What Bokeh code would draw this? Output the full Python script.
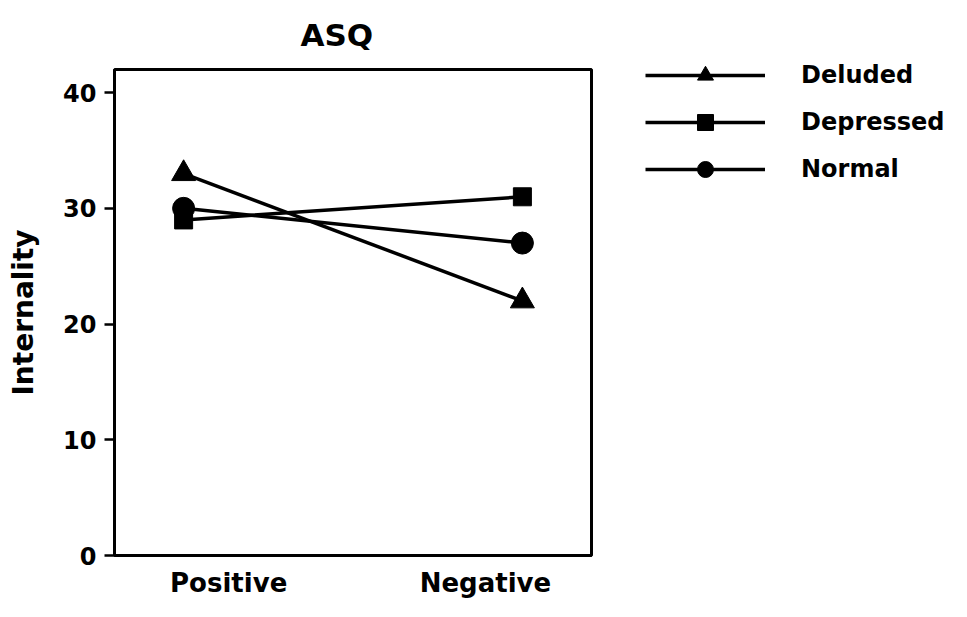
from bokeh.plotting import figure
from bokeh.models import Range1d, FixedTicker, Legend, LegendItem
from bokeh.layouts import row, column
from bokeh.embed import file_html
from bokeh.resources import INLINE

categories = ["Positive", "Negative"]
cat_x = [1, 2]
deluded = [33, 22]
depressed = [29, 31]
normal = [30, 27]
y_ticks = [0, 10, 20, 30, 40]
series = [("Deluded", deluded, "triangle", 24),
          ("Depressed", depressed, "square", 18),
          ("Normal", normal, "circle", 22)]

FONT = "DejaVu Sans"

p = figure(width=600, height=600, output_backend="svg", toolbar_location=None,
           x_range=Range1d(0.796, 2.204), y_range=Range1d(0, 42.0),
           min_border_left=114, min_border_right=9, min_border_top=69, min_border_bottom=44)

p.title.text = "ASQ"
p.title.align = "left"
p.title.offset = 186
p.title.vertical_align = "top"
p.title.text_font = FONT
p.title.text_font_size = "31px"
p.title.text_font_style = "bold"
p.title.text_color = "black"
p.title.standoff = 29

p.xgrid.visible = False
p.ygrid.visible = False
p.outline_line_color = "black"
p.outline_line_width = 3
p.background_fill_color = "white"
p.border_fill_color = "white"

# y axis
p.yaxis.ticker = FixedTicker(ticks=y_ticks)
p.yaxis.minor_tick_line_color = None
p.yaxis.major_tick_out = 10
p.yaxis.major_tick_in = 0
p.yaxis.major_tick_line_width = 2.5
p.yaxis.axis_line_width = 3
p.yaxis.major_label_standoff = 8
p.yaxis.major_label_text_font = FONT
p.yaxis.major_label_text_font_size = "24px"
p.yaxis.major_label_text_font_style = "bold"
p.yaxis.major_label_text_color = "black"
p.yaxis.axis_label = "Internality"
p.yaxis.axis_label_text_font = FONT
p.yaxis.axis_label_text_font_size = "28px"
p.yaxis.axis_label_text_font_style = "bold"
p.yaxis.axis_label_text_color = "black"
p.yaxis.axis_label_standoff = 20

# x axis: labels only (slightly offset from the data columns, as in the original)
label_pos = [cat_x[0] + 0.133, cat_x[1] - 0.109]
p.xaxis.ticker = FixedTicker(ticks=label_pos)
p.xaxis.major_label_overrides = {label_pos[i]: categories[i] for i in range(2)}
p.xaxis.major_tick_line_color = None
p.xaxis.major_tick_out = 0
p.xaxis.major_tick_in = 0
p.xaxis.minor_tick_line_color = None
p.xaxis.axis_line_width = 3
p.xaxis.major_label_standoff = 12
p.xaxis.major_label_text_font = FONT
p.xaxis.major_label_text_font_size = "26px"
p.xaxis.major_label_text_font_style = "bold"
p.xaxis.major_label_text_color = "black"

for name, vals, marker, size in series:
    p.line(cat_x, vals, line_color="black", line_width=3.5)
    p.scatter(cat_x, vals, marker=marker, size=size, fill_color="black", line_color="black")

# legend panel to the right (its renderers are hidden; only the legend shows)
q = figure(width=350, height=600, output_backend="svg", toolbar_location=None,
           x_axis_location=None, y_axis_location=None,
           x_range=p.x_range, y_range=p.y_range,
           min_border_left=0, min_border_right=0, min_border_top=0, min_border_bottom=0)
q.title.visible = False
q.xgrid.visible = False
q.ygrid.visible = False
q.outline_line_color = None
q.background_fill_color = "white"
q.border_fill_color = "white"

items = []
for name, vals, marker, size in series:
    l = q.line(cat_x, vals, line_color="black", line_width=3.5, visible=False)
    s = q.scatter(cat_x, vals, marker=marker, size=size, fill_color="black", line_color="black",
                  visible=False)
    items.append(LegendItem(label=name, renderers=[l, s]))

legend = Legend(items=items, location=(45, 411), glyph_width=120, glyph_height=40,
                label_height=40, spacing=7, padding=0, margin=0, label_standoff=36,
                border_line_color=None, background_fill_alpha=0, inactive_fill_alpha=0,
                label_text_font=FONT, label_text_font_size="24px", label_text_font_style="bold",
                label_text_color="black")
q.add_layout(legend, "center")

layout = row(p, column(q))
open("out.html", "w").write(file_html(layout, INLINE))
